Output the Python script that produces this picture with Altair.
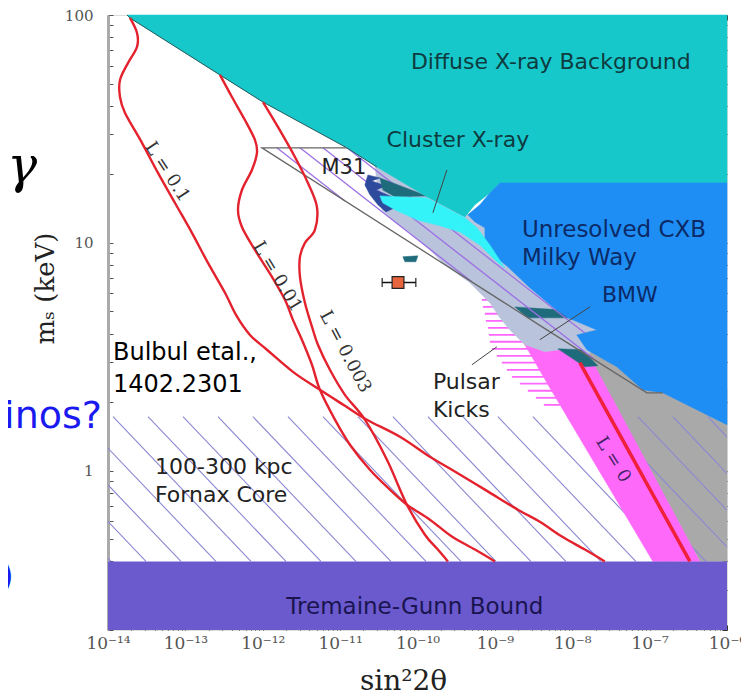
import altair as alt
import pandas as pd

# ---------------- axes ----------------
X_DOMAIN = [1e-14, 1e-6]
Y_DOMAIN = [0.2, 100]
x_tick_labels = ["10⁻¹⁴", "10⁻¹³", "10⁻¹²", "10⁻¹¹", "10⁻¹⁰", "10⁻⁹", "10⁻⁸", "10⁻⁷", "10⁻⁶"]
y_tick_labels = ["1", "10", "100"]
x_ticks = [m * 10.0 ** e for e in range(-14, -6) for m in range(1, 10)] + [1e-6]
y_ticks = [m * 10.0 ** e for e in range(-1, 2) for m in range(1, 10) if m * 10.0 ** e >= 0.2] + [100.0]

# ------------- regions: vertices as log10(sin^2 2θ), log10(m_s / keV) -------------
dxb_lx = [-13.755, -6.0, -6.0, -8.935, -9.065, -9.258, -9.388, -9.879, -10.525, -10.912, -11.997, -12.553, -13.716]
dxb_ly = [2.0, 2.0, 1.263, 1.263, 1.219, 1.167, 1.114, 1.202, 1.333, 1.417, 1.618, 1.737, 1.987]

cxb_lx = [-8.935, -6.0, -6.0, -6.054, -6.571, -6.829, -7.088, -7.424, -7.811, -7.941, -7.682, -8.057,
          -8.251, -8.548, -8.832, -8.974, -9.129, -9.129, -9.258, -9.349, -9.194, -9.065]
cxb_ly = [1.263, 1.263, 0.202, 0.211, 0.298, 0.342, 0.355, 0.456, 0.531, 0.596, 0.618, 0.671,
          0.719, 0.803, 0.895, 0.934, 1.013, 1.066, 1.092, 1.123, 1.167, 1.219]

cluster_lx = [-10.486, -9.879, -9.388, -9.232, -9.065, -8.871, -8.974, -9.194, -9.452, -9.711, -10.008, -10.292, -10.447]
cluster_ly = [1.206, 1.197, 1.110, 1.066, 0.991, 0.890, 0.917, 0.991, 1.048, 1.075, 1.101, 1.145, 1.175]

teal_strip_lx = [-10.486, -9.879, -10.292, -10.447]
teal_strip_ly = [1.285, 1.206, 1.202, 1.232]

m31_spikes_lx = [-10.641, -10.486, -10.589, -10.408, -10.537, -10.331, -10.486, -10.292, -10.408, -10.512, -10.615, -10.680]
m31_spikes_ly = [1.298, 1.285, 1.272, 1.250, 1.232, 1.202, 1.189, 1.154, 1.136, 1.167, 1.211, 1.254]

lav_lx = [-10.550, -9.323, -7.643, -7.643, -7.811, -8.160, -8.354, -8.612, -8.806, -8.935, -9.065,
          -9.323, -9.646, -9.840, -10.098, -10.292, -10.460, -10.512]
lav_ly = [1.342, 1.123, 0.772, 0.575, 0.500, 0.531, 0.522, 0.553, 0.618, 0.671, 0.737,
          0.825, 0.904, 0.969, 1.044, 1.092, 1.145, 1.232]

gray_lx = [-7.902, -7.127, -6.0, -6.0, -6.351, -7.798]
gray_ly = [0.575, 0.575, 0.355, -0.398, -0.398, 0.500]

pink_lx = [-8.832, -8.225, -7.966, -7.772, -6.351, -6.958, -8.328, -8.574]
pink_ly = [0.671, 0.662, 0.561, 0.500, -0.398, -0.398, 0.386, 0.531]

bmw_bar1_lx = [-8.742, -8.160, -8.005, -8.574]
bmw_bar1_ly = [0.719, 0.706, 0.671, 0.671]
bmw_bar2_lx = [-8.186, -7.876, -7.669, -7.837]
bmw_bar2_ly = [0.535, 0.531, 0.461, 0.456]
dash_lx = [-10.189, -9.995, -10.021, -10.163]
dash_ly = [0.939, 0.943, 0.917, 0.917]

m31_outline_lx = [-10.912, -12.010, -8.935, -8.328, -7.036, -6.829]
m31_outline_ly = [1.417, 1.417, 0.750, 0.618, 0.342, 0.342]

m31_hatch_x1 = [-11.817, -11.519, -11.222, -10.912]
m31_hatch_y1 = [1.417, 1.417, 1.417, 1.417]
m31_hatch_x2 = [-10.938, -9.297, -7.708, -7.643]
m31_hatch_y2 = [1.184, 0.829, 0.487, 0.553]

# Fornax-core hatching (between 0.4 keV and ~1.73 keV)
fornax_top_lx = [-15.744, -15.292, -14.840, -14.388, -13.935, -13.483, -13.031, -12.579, -12.127, -11.674, -11.222,
                 -10.770, -10.318, -9.866, -9.413, -8.961, -8.509, -8.057, -7.605, -7.152, -6.700, -6.248]
fornax_bot_lx = [-13.961, -13.509, -13.057, -12.605, -12.152, -11.700, -11.248, -10.796, -10.344, -9.891, -9.439,
                 -8.987, -8.535, -8.083, -7.630, -7.178, -6.726, -6.274, -5.822, -5.369, -4.917, -4.465]
FORNAX_TOP_LY = 0.237
TG_LY = -0.398

# Pulsar-kick pink stripes
stripe_ly = [0.750, 0.719, 0.689, 0.658, 0.627, 0.596, 0.566, 0.535, 0.504, 0.474, 0.443, 0.412, 0.382, 0.351, 0.320, 0.289]
stripe_left_lx = [-9.168, -9.155, -9.129, -9.116, -9.090, -9.077, -9.065, -9.039, -8.974, -8.910, -8.845,
                  -8.780, -8.677, -8.574, -8.470, -8.367]
STRIPE_RIGHT_LX = -8.16

# lepton-asymmetry production curves
l01_lx = [-13.716, -13.625, -13.625, -13.742, -13.845, -13.845, -13.780, -13.561, -13.354, -13.134, -12.915, -12.708,
          -12.488, -12.346, -12.165, -11.946, -11.610, -11.261, -10.938, -10.654, -10.227, -9.840, -9.556, -9.129,
          -8.703, -8.419, -8.134, -7.837, -7.579]
l01_ly = [1.987, 1.921, 1.860, 1.789, 1.715, 1.640, 1.570, 1.439, 1.307, 1.175, 1.044, 0.912,
          0.781, 0.684, 0.596, 0.531, 0.434, 0.355, 0.285, 0.224, 0.149, 0.061, 0.004, -0.083,
          -0.171, -0.224, -0.289, -0.346, -0.398]
l001_lx = [-12.553, -12.398, -12.230, -12.101, -12.075, -12.140, -12.269, -12.320, -12.269, -12.101, -11.881, -11.713,
           -11.610, -11.494, -11.364, -11.261, -11.067, -10.873, -10.615, -10.357, -10.137, -9.840, -9.556, -9.258, -9.000]
l001_ly = [1.737, 1.640, 1.539, 1.452, 1.395, 1.320, 1.232, 1.145, 1.070, 0.969, 0.851, 0.750,
           0.662, 0.575, 0.465, 0.355, 0.224, 0.114, 0.004, -0.083, -0.149, -0.215, -0.289, -0.346, -0.398]
l0003_lx = [-11.997, -11.804, -11.584, -11.416, -11.300, -11.326, -11.455, -11.519, -11.519, -11.455, -11.364, -11.287,
            -11.132, -10.938, -10.680, -10.395, -10.137, -9.904, -9.737, -9.607]
l0003_ly = [1.618, 1.509, 1.377, 1.263, 1.158, 1.057, 1.000, 0.939, 0.851, 0.737, 0.632, 0.553,
            0.443, 0.333, 0.224, 0.048, -0.149, -0.281, -0.346, -0.398]
l0_lx = [-7.902, -6.480]
l0_ly = [0.474, -0.398]

# Bulbul et al. 3.55 keV line
bulbul_x = [5.6e-11]
bulbul_lo = [3.5e-11]
bulbul_hi = [9.5e-11]
bulbul_m = [6.7]

# leader lines
leader_x1 = [-9.620, -7.772, -9.297]
leader_y1 = [1.320, 0.719, 0.465]
leader_x2 = [-9.801, -8.419, -8.974]
leader_y2 = [1.132, 0.575, 0.544]

# ---------------- helpers ----------------
xs = alt.Scale(type="log", domain=X_DOMAIN, nice=False)
ys = alt.Scale(type="log", domain=Y_DOMAIN, nice=False)


def X(f):
    return alt.X(f"{f}:Q", scale=xs, axis=None)


def Y(f):
    return alt.Y(f"{f}:Q", scale=ys, axis=None)


def pts(lx, ly):
    return pd.DataFrame({"x": [10 ** a for a in lx], "y": [10 ** b for b in ly], "o": list(range(len(lx)))})


def polygon(lx, ly, color):
    return alt.Chart(pts(lx, ly)).mark_line(
        fill=color, stroke=color, strokeWidth=0.5, interpolate="linear-closed"
    ).encode(x=X("x"), y=Y("y"), order="o:Q")


def polyline(lx, ly, color, width, interp="linear"):
    return alt.Chart(pts(lx, ly)).mark_line(
        color=color, strokeWidth=width, interpolate=interp
    ).encode(x=X("x"), y=Y("y"), order="o:Q")


def segments(x1, y1, x2, y2, color, width, clip=False):
    df = pd.DataFrame({"x1": [10 ** a for a in x1], "y1": [10 ** b for b in y1],
                       "x2": [10 ** a for a in x2], "y2": [10 ** b for b in y2]})
    return alt.Chart(df).mark_rule(color=color, strokeWidth=width, clip=clip).encode(
        x=X("x1"), y=Y("y1"), x2="x2:Q", y2="y2:Q")


# ---------------- base with axes (Tremaine-Gunn bound) ----------------
lab_x = ("abs(log(datum.value)/LN10 - round(log(datum.value)/LN10)) < 0.01 ? "
         + "[" + ",".join("'" + s + "'" for s in x_tick_labels) + "][round(log(datum.value)/LN10) + 14] : ''")
lab_y = ("abs(log(datum.value)/LN10 - round(log(datum.value)/LN10)) < 0.01 ? "
         + "[" + ",".join("'" + s + "'" for s in y_tick_labels) + "][round(log(datum.value)/LN10)] : ''")

tg_df = pd.DataFrame({"x": [X_DOMAIN[0]], "x2": [X_DOMAIN[1]], "y": [Y_DOMAIN[0]], "y2": [10 ** TG_LY]})
tg = alt.Chart(tg_df).mark_rect(color="#6A5ACD").encode(
    x=alt.X("x:Q", scale=xs, axis=alt.Axis(
        values=x_ticks, labelExpr=lab_x, labelFont="DejaVu Serif", labelFontSize=17, labelColor="#555555",
        labelPadding=10, labelOverlap=False, labelFlush=False, tickColor="#333333", tickSize={"expr": "-5"},
        domain=False, grid=False, title="sin²2θ", titleFont="DejaVu Serif", titleFontSize=28,
        titleFontWeight="normal", titleColor="#222222", titleX=295, titleY=59, titleBaseline="alphabetic")),
    x2="x2:Q",
    y=alt.Y("y:Q", scale=ys, axis=alt.Axis(
        values=y_ticks, labelExpr=lab_y, labelFont="DejaVu Serif", labelFontSize=15, labelColor="#555555",
        labelPadding=20, labelOverlap=False, labelFlush=False, tickColor="#555555", tickSize={"expr": "-5"},
        domainColor="#AAAAAA", domainWidth=3, grid=False, title="mₛ (keV)", titleFont="DejaVu Serif",
        titleFontSize=26, titleFontWeight="normal", titleColor="#222222", titleX=-63, titleY=273,
        titleAngle=270, titleBaseline="middle")),
    y2="y2:Q",
)
frame = alt.Chart(tg_df).mark_rect(opacity=0).encode(
    x=alt.X("x:Q", scale=xs, axis=alt.Axis(orient="top", values=x_ticks, labels=False, tickColor="#333333",
                                           tickSize={"expr": "-5"}, domain=False, grid=False, title="")),
    x2="x2:Q",
    y=alt.Y("y:Q", scale=ys, axis=alt.Axis(orient="right", values=y_ticks, labels=False, tickColor="#333333",
                                           tickSize={"expr": "-5"}, domain=False, grid=False, title="")),
    y2="y2:Q",
)

# ---------------- regions ----------------
gray = polygon(gray_lx, gray_ly, "#A9A9A9")
fornax = segments(fornax_top_lx, [FORNAX_TOP_LY] * len(fornax_top_lx), fornax_bot_lx,
                  [TG_LY] * len(fornax_bot_lx), "#8A88D2", 1.1, clip=True)
stripes_df = pd.DataFrame({"x1": [10 ** a for a in stripe_left_lx], "x2": [10 ** STRIPE_RIGHT_LX] * len(stripe_ly),
                           "y": [10 ** b for b in stripe_ly]})
stripes = alt.Chart(stripes_df).mark_rule(color="#FF66FF", strokeWidth=1.8).encode(
    x=X("x1"), x2="x2:Q", y=Y("y"))
pink = polygon(pink_lx, pink_ly, "#FF69FA")
lav = polygon(lav_lx, lav_ly, "#B9C3DC")
bar1 = polygon(bmw_bar1_lx, bmw_bar1_ly, "#1E6B7B")
bar2 = polygon(bmw_bar2_lx, bmw_bar2_ly, "#1E6B7B")
dash = polygon(dash_lx, dash_ly, "#1E6B7B")
m31_hatch = segments(m31_hatch_x1, m31_hatch_y1, m31_hatch_x2, m31_hatch_y2, "#9C6FE4", 1.3)
spikes = polygon(m31_spikes_lx, m31_spikes_ly, "#2D4A9C")
strip = polygon(teal_strip_lx, teal_strip_ly, "#1E6B7B")
dxb = polygon(dxb_lx, dxb_ly, "#17C8CB")
cxb = polygon(cxb_lx, cxb_ly, "#1E8EF5")
cluster = polygon(cluster_lx, cluster_ly, "#33F3F8")
outline = polyline(m31_outline_lx, m31_outline_ly, "#666666", 1.3)
dxb_edge = polyline(dxb_lx[8:] + dxb_lx[:1], dxb_ly[8:] + dxb_ly[:1], "#2A5A5C", 1)

red = "#E3222E"
l01 = polyline(l01_lx, l01_ly, red, 2.4, "cardinal")
l001 = polyline(l001_lx, l001_ly, red, 2.4, "cardinal")
l0003 = polyline(l0003_lx, l0003_ly, red, 2.4, "cardinal")
l0 = polyline(l0_lx, l0_ly, "#F0203A", 3.5)

leaders = segments(leader_x1, leader_y1, leader_x2, leader_y2, "#444444", 1)

# Bulbul point
bb = pd.DataFrame({"x": bulbul_x, "lo": bulbul_lo, "hi": bulbul_hi, "y": bulbul_m})
bb_bar = alt.Chart(bb).mark_rule(color="#111111", strokeWidth=1.6).encode(
    x=alt.X("lo:Q", scale=xs, axis=None), x2="hi:Q", y=alt.Y("y:Q", scale=ys, axis=None))
bb_cap_lo = alt.Chart(bb).mark_tick(color="#111111", thickness=1.6, size=9, orient="vertical").encode(
    x=alt.X("lo:Q", scale=xs, axis=None), y=alt.Y("y:Q", scale=ys, axis=None))
bb_cap_hi = alt.Chart(bb).mark_tick(color="#111111", thickness=1.6, size=9, orient="vertical").encode(
    x=alt.X("hi:Q", scale=xs, axis=None), y=alt.Y("y:Q", scale=ys, axis=None))
bb_pt = alt.Chart(bb).mark_point(shape="square", size=140, filled=True, fill="#E8643C", stroke="#222222",
                                 strokeWidth=1.2, opacity=1).encode(
    x=alt.X("x:Q", scale=xs, axis=None), y=alt.Y("y:Q", scale=ys, axis=None))

# ---------------- text ----------------
center_text = ["Diffuse X-ray Background", "Cluster X-ray", "M31", "BMW", "Tremaine-Gunn Bound"]
center_lx = [-8.277, -9.478, -10.951, -7.256, -10.034]
center_ly = [1.794, 1.452, 1.329, 0.772, -0.596]
center_col = ["#0E3B40", "#0E3B40", "#222222", "#0B2A66", "#1A1450"]
center_size = [22, 22, 21, 22, 23]

left_text = ["Unresolved CXB", "Milky Way", "Pulsar", "Kicks", "100-300 kpc", "Fornax Core"]
left_lx = [-8.651, -8.651, -9.801, -9.801, -13.393, -13.393]
left_ly = [1.057, 0.934, 0.390, 0.268, 0.018, -0.105]
left_col = ["#0B2A66", "#0B2A66", "#222222", "#222222", "#222222", "#222222"]
left_size = [23, 23, 22, 22, 22, 22]

curve_text = ["L = 0.1", "L = 0.01", "L = 0.003", "L = 0"]
curve_lx = [-13.238, -11.817, -10.938, -7.475]
curve_ly = [1.311, 0.851, 0.522, 0.048]
curve_angle = [57, 59, 62, 58]
curve_col = ["#333333", "#333333", "#333333", "#442266"]

ref_text = ["Bulbul etal.,", "1402.2301"]
ref_lx = [-13.935, -13.935]
ref_ly = [0.518, 0.377]


def tdf(t, lx, ly, **extra):
    d = {"t": t, "x": [10 ** a for a in lx], "y": [10 ** b for b in ly]}
    d.update(extra)
    return pd.DataFrame(d)


t_center = alt.Chart(tdf(center_text, center_lx, center_ly, c=center_col, s=center_size)).mark_text(
    font="DejaVu Sans", align="center", baseline="middle").encode(
    x=X("x"), y=Y("y"), text="t:N", color=alt.Color("c:N", scale=None), size=alt.Size("s:Q", scale=None))
t_left = alt.Chart(tdf(left_text, left_lx, left_ly, c=left_col, s=left_size)).mark_text(
    font="DejaVu Sans", align="left", baseline="middle").encode(
    x=X("x"), y=Y("y"), text="t:N", color=alt.Color("c:N", scale=None), size=alt.Size("s:Q", scale=None))
t_curve = alt.Chart(tdf(curve_text, curve_lx, curve_ly, c=curve_col, a=curve_angle)).mark_text(
    font="DejaVu Serif", fontSize=18, align="center", baseline="middle").encode(
    x=X("x"), y=Y("y"), text="t:N", color=alt.Color("c:N", scale=None), angle=alt.Angle("a:Q", scale=None))
t_ref = alt.Chart(tdf(ref_text, ref_lx, ref_ly)).mark_text(
    font="DejaVu Sans", fontSize=24, align="left", baseline="middle", color="#000000").encode(
    x=X("x"), y=Y("y"), text="t:N")

# fragments of the slide text around the figure
t_gamma = alt.Chart(tdf(["γ"], [-15.11], [1.333])).mark_text(
    font="DejaVu Serif", fontStyle="italic", fontSize=50, align="center", baseline="middle", color="#000000"
).encode(x=X("x"), y=Y("y"), text="t:N")
t_blue = alt.Chart(tdf(["inos?", ")"], [-14.078, -15.214], [0.237, -0.465])).mark_text(
    font="DejaVu Sans", fontSize=38, align="right", baseline="middle", color="#1A1AF0"
).encode(x=X("x"), y=Y("y"), text="t:N")

chart = alt.layer(
    gray, fornax, stripes, pink, lav, bar1, bar2, dash, m31_hatch, spikes, strip,
    dxb, cxb, cluster, dxb_edge, outline, tg, frame,
    l01, l001, l0003, l0, leaders, bb_bar, bb_cap_lo, bb_cap_hi, bb_pt,
    t_center, t_left, t_curve, t_ref, t_gamma, t_blue,
).resolve_axis(x="independent", y="independent").properties(
    width=619, height=615, autosize=alt.AutoSizeParams(type="none"),
    padding={"left": 100, "top": 7, "right": 14, "bottom": 67},
).configure_view(stroke="#777777", strokeWidth=1).configure(background="white")

chart.save("out.html", embed_options={"renderer": "svg", "actions": False})
